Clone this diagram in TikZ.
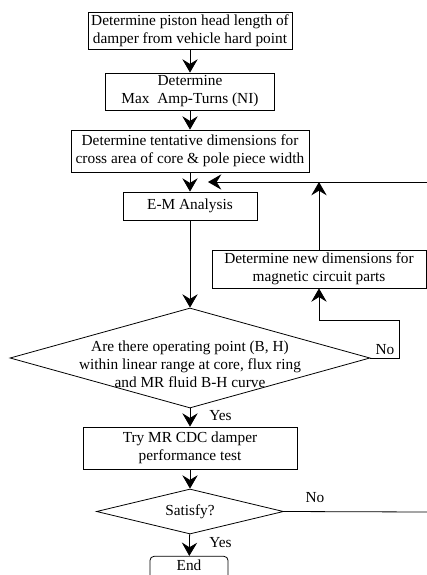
\documentclass[tikz,border=0pt]{standalone}
\usepackage{fontspec}
\setmainfont{Liberation Serif}
\usetikzlibrary{arrows.meta,shapes.geometric}

\tikzset{
  stepbox/.style={draw, line width=0.6pt, rectangle, inner sep=0.75pt, align=center, font=\fontsize{11.5}{13.5}\selectfont},
  decide/.style={draw, line width=0.6pt, diamond, inner sep=0pt},
  flow/.style={line width=0.6pt, -{Stealth[length=10pt,width=11.5pt,inset=3.5pt]}},
  lbl/.style={inner sep=0.75pt, font=\fontsize{11.5}{13.5}\selectfont}
}

\begin{document}
\begin{tikzpicture}[x=0.75pt,y=0.75pt,yscale=-1,xscale=1]
\useasboundingbox (0,0) rectangle (427,575);
\clip (0,0) rectangle (427,575);

%Shape: Rectangle [id:piston]
\draw (190,30.5) node [stepbox, minimum width=153pt, minimum height=27.75pt] (piston) {Determine piston head length of\\damper from vehicle hard point};
%Shape: Rectangle [id:ampturns]
\draw (190,91.5) node [stepbox, minimum width=126.75pt, minimum height=27.75pt] (ampturns) {Determine\\Max~ Amp-Turns (NI)};
%Shape: Rectangle [id:tentative]
\draw (190,151) node [stepbox, minimum width=178.5pt, minimum height=31.5pt] (tentative) {Determine tentative dimensions for\\cross area of core \& pole piece width};
%Shape: Rectangle [id:emanalysis]
\draw (190,206) node [stepbox, minimum width=100.5pt, minimum height=21pt] (emanalysis) {E-M Analysis};
%Shape: Rectangle [id:newdims]
\draw (319,269) node [stepbox, minimum width=160.5pt, minimum height=28.5pt] (newdims) {Determine new dimensions for\\magnetic circuit parts};
%Shape: Diamond [id:check]
\draw (190,358) node [decide, minimum width=270pt, minimum height=75pt] (check) {};
% Text Node
\draw (190,364) node [lbl, align=center] (checktext) {Are there operating point (B, H)\\within linear range at core, flux ring\\and MR fluid B-H curve};
%Shape: Rectangle [id:trytest]
\draw (190,448) node [stepbox, minimum width=160.5pt, minimum height=31.5pt] (trytest) {Try MR CDC damper\\performance test};
%Shape: Diamond [id:satisfy]
\draw (190,511.5) node [decide, minimum width=140.25pt, minimum height=33.75pt] (satisfy) {};
% Text Node
\draw (190,512) node [lbl] (satisfytext) {Satisfy?};
%Shape: Rounded Rectangle [id:finish]
\draw (189,573) node [stepbox, rounded corners=3pt, minimum width=58.5pt, minimum height=25pt, text depth=12pt] (finish) {End};

% feedback points
\coordinate (loopin) at (427,182);
\coordinate (looptip) at (208,182);
\coordinate (nocorner) at (399,320);
\coordinate (noright) at (427,512);

%Straight Lines
\draw [flow] (piston) -- (ampturns);
\draw [flow] (ampturns) -- (tentative);
\draw [flow] (tentative) -- (emanalysis);
\draw [flow] (emanalysis) -- (check);
\draw [flow] (check) -- (trytest);
\draw [flow] (trytest) -- (satisfy);
\draw [flow] (satisfy) -- (finish);
\draw [flow] (loopin) -- (looptip);
\draw [flow] (newdims.north) -- (newdims.north |- loopin);
\draw [flow] (check.east) -| (nocorner) -| (newdims.south);
\draw [line width=0.6pt] (satisfy.east) -- (noright);

% Text Node
\draw (208,416) node [lbl, anchor=west] (yesone) {Yes};
% Text Node
\draw (208,543) node [lbl, anchor=west] (yestwo) {Yes};
% Text Node
\draw (385,350) node [lbl] (noone) {No};
% Text Node
\draw (315,498) node [lbl] (notwo) {No};
\end{tikzpicture}
\end{document}
